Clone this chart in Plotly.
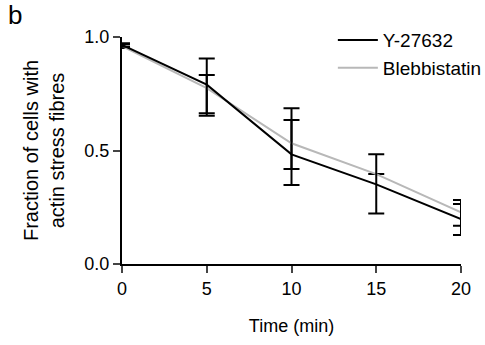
import plotly.graph_objects as go

time_min = [0, 5, 10, 15, 20]
y27632 = [0.965, 0.79, 0.483, 0.351, 0.198]
y27632_err_plus = [0.008, 0.115, 0.151, 0.132, 0.066]
y27632_err_minus = [0.008, 0.126, 0.135, 0.128, 0.070]
blebb = [0.96, 0.775, 0.532, 0.396, 0.228]
blebb_err_plus = [0.008, 0.058, 0.154, 0.0, 0.054]
blebb_err_minus = [0.008, 0.122, 0.114, 0.0, 0.059]
x_ticks = [0, 5, 10, 15, 20]
y_ticks = [0.0, 0.5, 1.0]

FONT = "Liberation Sans, Arial, sans-serif"

fig = go.Figure()
fig.add_trace(go.Scatter(
    x=time_min, y=blebb, name="Blebbistatin", mode="lines",
    line=dict(color="#b8b8b8", width=2),
    error_y=dict(type="data", symmetric=False, array=blebb_err_plus,
                 arrayminus=blebb_err_minus, color="black", thickness=2, width=8),
    cliponaxis=False, legendrank=2,
))
fig.add_trace(go.Scatter(
    x=time_min, y=y27632, name="Y-27632", mode="lines",
    line=dict(color="black", width=2),
    error_y=dict(type="data", symmetric=False, array=y27632_err_plus,
                 arrayminus=y27632_err_minus, color="black", thickness=2, width=8),
    cliponaxis=False, legendrank=1,
))

fig.update_layout(
    width=485, height=345,
    margin=dict(l=122, r=24, t=37, b=81, autoexpand=False),
    plot_bgcolor="white", paper_bgcolor="white",
    font=dict(family=FONT, size=18, color="black"),
    showlegend=True,
    legend=dict(x=0.622, y=1.07, xanchor="left", yanchor="top",
                bgcolor="rgba(0,0,0,0)", font=dict(size=19), itemwidth=40,
                tracegroupgap=0),
    xaxis=dict(range=[0, 20], tickvals=x_ticks, ticks="outside", ticklen=7, tickwidth=2,
               showline=True, linewidth=2, linecolor="black", showgrid=False,
               zeroline=False, tickfont=dict(size=18), automargin=False,
               title=dict(text="Time (min)", font=dict(size=18), standoff=22)),
    yaxis=dict(range=[0, 1], tickvals=y_ticks, tickformat=".1f", ticks="outside",
               ticklen=7, tickwidth=2, showline=True, linewidth=2, linecolor="black",
               showgrid=False, zeroline=False, tickfont=dict(size=18), automargin=False,
               title=dict(text="Fraction of cells with<br>actin stress fibres",
                          font=dict(size=20), standoff=14)),
)
fig.add_annotation(text="b", x=0.0, y=1.0, xref="paper", yref="paper",
                   xanchor="left", yanchor="top", xshift=-116, yshift=39,
                   showarrow=False, font=dict(size=26))

fig.write_html("out.html", config={"displayModeBar": False},
               post_script="document.body.style.margin='0';")
